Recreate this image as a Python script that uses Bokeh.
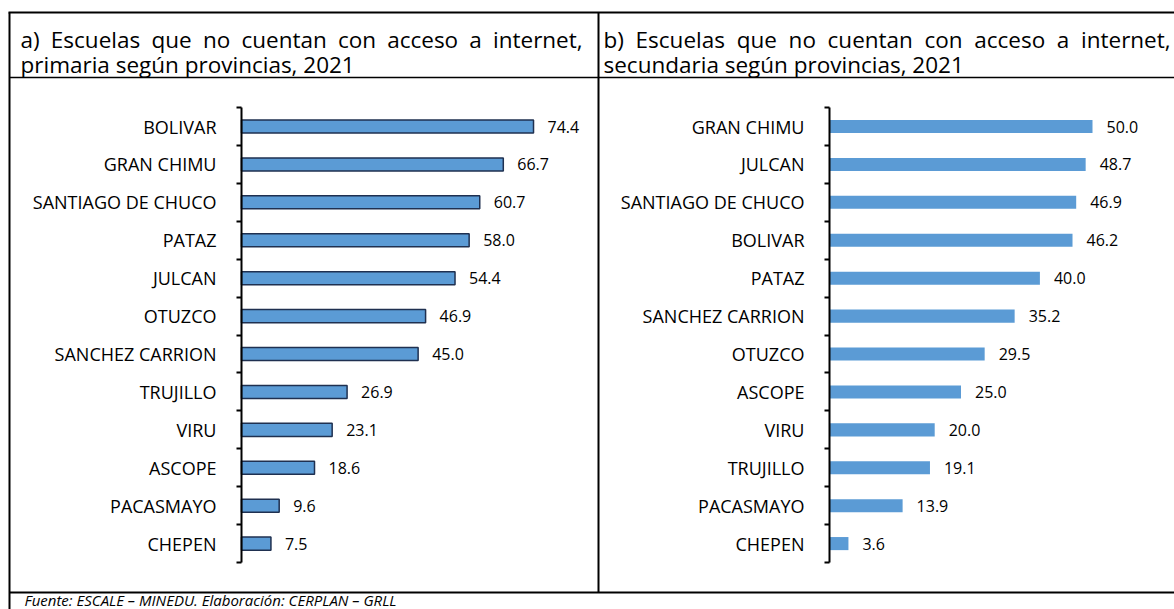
from bokeh.plotting import figure
from bokeh.models import Range1d, LinearAxis, FixedTicker
from bokeh.core.properties import value
from bokeh.embed import file_html
from bokeh.resources import INLINE

# ---------------- data ----------------
prov_a = ["BOLIVAR", "GRAN CHIMU", "SANTIAGO DE CHUCO", "PATAZ", "JULCAN", "OTUZCO",
          "SANCHEZ CARRION", "TRUJILLO", "VIRU", "ASCOPE", "PACASMAYO", "CHEPEN"]
val_a = [74.4, 66.7, 60.7, 58.0, 54.4, 46.9, 45.0, 26.9, 23.1, 18.6, 9.6, 7.5]

prov_b = ["GRAN CHIMU", "JULCAN", "SANTIAGO DE CHUCO", "BOLIVAR", "PATAZ", "SANCHEZ CARRION",
          "OTUZCO", "ASCOPE", "VIRU", "TRUJILLO", "PACASMAYO", "CHEPEN"]
val_b = [50.0, 48.7, 46.9, 46.2, 40.0, 35.2, 29.5, 25.0, 20.0, 19.1, 13.9, 3.6]

title_a1 = "a) Escuelas que no cuentan con acceso a internet,"
title_a2 = "primaria según provincias, 2021"
title_b1 = "b) Escuelas que no cuentan con acceso a internet,"
title_b2 = "secundaria según provincias, 2021"
footer = "Fuente: ESCALE – MINEDU. Elaboración: CERPLAN – GRLL"

# ---------------- layout (pixels) ----------------
W, H = 1174, 609
FONT = "Open Sans"
TITLE_PX = 22.5

AX_A, SC_A = 241, 3.925      # axis pixel position, px per unit
AX_B, SC_B = 829, 5.26
ROW0, ROWH = 126, 37.917     # centre of first row, row height

# approximate Open Sans advance widths (em) for justifying the first title line
_W = {"a": .556, "b": .613, "c": .479, "d": .613, "e": .561, "f": .336, "g": .546, "h": .614,
      "i": .258, "l": .258, "m": .931, "n": .614, "o": .602, "p": .613, "q": .613, "r": .408,
      "s": .477, "t": .352, "u": .614, "v": .501, "E": .557, ")": .296, ",": .258}


def justify(line, x0, x1, size):
    words = line.split(" ")
    widths = [sum(_W.get(ch, .55) for ch in w) * size for w in words]
    gap = (x1 - x0 - sum(widths)) / (len(words) - 1)
    xs, x = [], x0
    for w in widths:
        xs.append(x)
        x += w + gap
    return words, xs


p = figure(width=W, height=H, min_border=0, x_axis_type=None, y_axis_type=None,
           toolbar_location=None, output_backend="svg", outline_line_color=None,
           x_range=Range1d(0, W), y_range=Range1d(H, 0))
p.xgrid.visible = False
p.ygrid.visible = False

p.extra_x_ranges = {
    "a": Range1d(-AX_A / SC_A, (W - AX_A) / SC_A),
    "b": Range1d(-AX_B / SC_B, (W - AX_B) / SC_B),
}
p.extra_y_ranges = {"rows": Range1d((H - ROW0) / ROWH, -ROW0 / ROWH)}

# ---------------- table frame ----------------
p.segment(x0=[9, 8, 9, 598, 9], y0=[12, 12, 77, 12, 592],
          x1=[9, W, W, 598, W], y1=[H, 12, 77, 592, 592],
          line_color="black", line_width=[2, 2, 1.5, 2, 2])

# ---------------- titles ----------------
for line, x0, x1 in [(title_a1, 20, 582), (title_b1, 603, 1170)]:
    words, xs = justify(line, x0, x1, TITLE_PX)
    p.text(x=xs, y=[39] * len(words), text=words, text_font=value(FONT),
           text_font_size=f"{TITLE_PX}px", text_baseline="alphabetic", text_color="black")
p.text(x=[20, 603], y=[64, 64], text=[title_a2, title_b2], text_font=value(FONT),
       text_font_size=f"{TITLE_PX}px", text_baseline="alphabetic", text_color="black")
p.text(x=[24], y=[609], text=[footer], text_font=value(FONT), text_font_size="15px",
       text_font_style="italic", text_baseline="bottom", text_color="black")

# ---------------- charts ----------------
def chart(rng, cats, vals, line_color):
    idx = list(range(len(cats)))
    p.hbar(y=idx, left=0, right=vals, height=0.345, x_range_name=rng, y_range_name="rows",
           fill_color="#5B9BD5", line_color=line_color, line_width=1.5)
    p.text(x=vals, y=idx, text=[f"{v:.1f}" for v in vals], x_offset=14,
           x_range_name=rng, y_range_name="rows", text_font=value(FONT),
           text_font_size="16px", text_baseline="middle", text_align="left",
           text_color="black")
    ax = LinearAxis(x_range_name=rng, y_range_name="rows", fixed_location=0,
                    ticker=FixedTicker(ticks=idx, minor_ticks=[i - 0.5 for i in range(len(cats) + 1)]),
                    major_label_overrides={i: c for i, c in zip(idx, cats)},
                    bounds=(-0.5, len(cats) - 0.5),
                    axis_line_color="black", axis_line_width=2,
                    major_tick_line_color=None, major_tick_in=0, major_tick_out=0,
                    minor_tick_line_color="black", minor_tick_line_width=2,
                    minor_tick_in=0, minor_tick_out=5,
                    major_label_standoff=20,
                    major_label_text_font=FONT, major_label_text_font_size="18px",
                    major_label_text_color="black")
    p.add_layout(ax, "left")


chart("a", prov_a, val_a, "#1F3050")
chart("b", prov_b, val_b, None)

open("out.html", "w").write(file_html(p, INLINE))
